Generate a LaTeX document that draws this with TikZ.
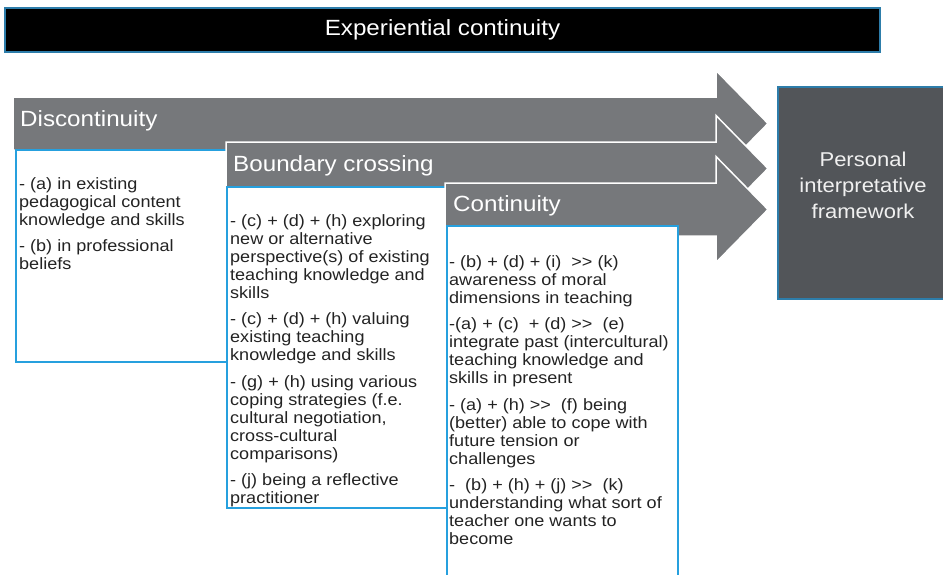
\documentclass[tikz,border=0pt]{standalone}
\usepackage{fontspec}
\setmainfont{Liberation Sans}[FakeStretch=1.1]
\definecolor{titleblue}{RGB}{45,125,170}
\definecolor{boxblue}{RGB}{38,160,222}
\definecolor{arrowgray}{RGB}{118,120,123}
\definecolor{framegray}{RGB}{82,85,89}
\definecolor{bodyink}{RGB}{35,35,35}
\newcommand\yields{>\kern0pt>}
\begin{document}
\begin{tikzpicture}[x=1pt,y=-1pt,
    titlebar/.style={fill=black,draw=titleblue,line width=2pt,text=white,
      font=\fontsize{22}{26}\selectfont,minimum width=875pt,minimum height=44pt},
    phasearrow/.style={fill=arrowgray,draw=white,line width=1.5pt,line join=miter},
    phase/.style={font=\fontsize{22}{26}\selectfont,text=white,anchor=base west,inner sep=0pt},
    itembox/.style={fill=white,draw=boxblue,line width=1.6pt},
    items/.style={font=\fontsize{16.4}{18}\selectfont,text=bodyink,align=left,
      inner sep=0pt,anchor=north west},
    framebox/.style={fill=framegray,draw=titleblue,line width=1.2pt},
    framelabel/.style={font=\fontsize{20}{26}\selectfont,text=white!94!black,align=center,
      inner sep=0pt,anchor=north}]
  \useasboundingbox (0,0) rectangle (943,574);
  \clip (0,0) rectangle (943,574);
  \node[titlebar] (title) at (442.5,30) {Experiential continuity};

  \draw[phasearrow] (13,97) -- (716,97) -- (716,70.5) -- (768,123.5) -- (716,176.5)
    -- (716,150) -- (13,150) -- cycle;
  \node[phase] (disc) at (20,126) {Discontinuity};
  \draw[itembox] (16,150) rectangle (227,362);
  \node[items] (discitems) at (19,176.4) {\strut- (a) in existing\\
    pedagogical content\\
    knowledge and skills\\[8.5pt]
    - (b) in professional\\
    beliefs};

  \draw[phasearrow] (226,142) -- (716,142) -- (716,115.5) -- (768,168.5) -- (716,221.5)
    -- (716,195) -- (226,195) -- cycle;
  \node[phase] (bound) at (233,171) {Boundary crossing};
  \draw[itembox] (227,187) rectangle (447,508);
  \node[items] (bounditems) at (230,213.4) {\strut- (c) + (d) + (h) exploring\\
    new or alternative\\
    perspective(s) of existing\\
    teaching knowledge and\\
    skills\\[8.5pt]
    - (c) + (d) + (h) valuing\\
    existing teaching\\
    knowledge and skills\\[8.5pt]
    - (g) + (h) using various\\
    coping strategies (f.e.\\
    cultural negotiation,\\
    cross-cultural\\
    comparisons)\\[8.5pt]
    - (j) being a reflective\\
    practitioner};

  \draw[phasearrow] (445,183) -- (716,183) -- (716,156.5) -- (768,209.5) -- (716,262.5)
    -- (716,236) -- (445,236) -- cycle;
  \node[phase] (cont) at (453,211) {Continuity};
  \draw[itembox] (447,226) rectangle (678,600);
  \node[items] (contitems) at (449,254.4) {\strut- (b) + (d) + (i)~ \yields{} (k)\\
    awareness of moral\\
    dimensions in teaching\\[8.5pt]
    -(a) + (c)~ + (d) \yields~ (e)\\
    integrate past (intercultural)\\
    teaching knowledge and\\
    skills in present\\[8.5pt]
    - (a) + (h) \yields~ (f) being\\
    (better) able to cope with\\
    future tension or\\
    challenges\\[8.5pt]
    -~ (b) + (h) + (j) \yields~ (k)\\
    understanding what sort of\\
    teacher one wants to\\
    become};

  \draw[framebox] (778,87) rectangle (950,299);
  \node[framelabel] (framework) at (863,148) {\strut Personal\\
    interpretative\\
    framework};
\end{tikzpicture}
\end{document}
